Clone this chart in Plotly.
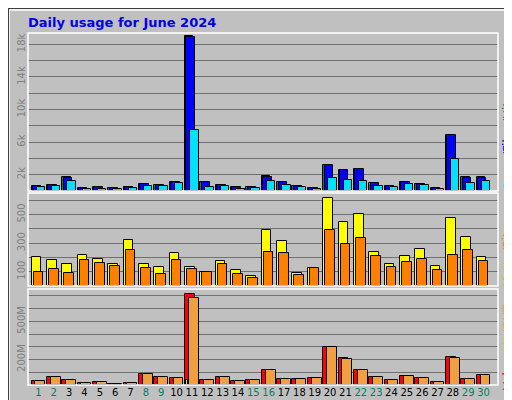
import plotly.graph_objects as go

days = list(range(1, 31))
weekend = [1, 2, 8, 9, 15, 16, 22, 23, 29, 30]
hits = [670, 750, 1670, 370, 500, 370, 500, 870, 750, 1120, 19000, 1120, 750, 500, 500, 1800, 1120, 620, 370, 3250, 2600, 2750, 1000, 620, 1120, 870, 370, 6900, 1670, 1670]
files = [640, 730, 1640, 350, 480, 350, 480, 850, 730, 1100, 18950, 1100, 730, 480, 480, 1780, 1100, 600, 350, 3230, 2580, 2730, 980, 600, 1100, 850, 350, 6880, 1650, 1650]
pages = [500, 620, 1250, 250, 250, 250, 370, 620, 620, 1000, 7500, 500, 620, 250, 370, 1250, 750, 500, 250, 1600, 1370, 1250, 620, 500, 870, 750, 250, 3900, 1000, 1250]
visits = [205, 184, 156, 219, 191, 156, 323, 156, 135, 233, 135, 100, 177, 114, 72, 393, 316, 93, 125, 616, 449, 505, 240, 156, 212, 260, 142, 477, 344, 205]
sites = [100, 121, 93, 184, 163, 142, 253, 128, 86, 184, 121, 100, 156, 86, 58, 240, 233, 79, 128, 393, 295, 337, 212, 135, 170, 191, 114, 219, 253, 177]
volume = [32, 64, 40, 19, 24, 10, 19, 90, 64, 56, 716, 40, 64, 32, 40, 119, 48, 48, 56, 302, 215, 119, 64, 40, 72, 56, 24, 223, 48, 82]
vol_in = [3, 3, 3, 1, 2, 1, 1, 3, 3, 3, 40, 3, 3, 2, 2, 3, 3, 3, 3, 3, 3, 3, 3, 3, 3, 3, 2, 3, 3, 3]
vol_out = [32, 64, 40, 19, 24, 9, 19, 90, 64, 56, 684, 40, 64, 32, 40, 119, 48, 48, 56, 302, 207, 119, 64, 40, 72, 56, 24, 215, 48, 82]

fig = go.Figure()
def bar(y, color, off, w, ax):
    fig.add_trace(go.Bar(x=days, y=y, marker=dict(color=color, line=dict(color="black", width=1)),
                         offset=off, width=w, xaxis="x" + ax, yaxis="y" + ax, showlegend=False))
bar(hits, "#008040", -0.45, 0.55, "")
bar(files, "#0000FF", -0.36, 0.55, "")
bar(pages, "#00E0FF", -0.12, 0.55, "")
bar(visits, "#FFFF00", -0.45, 0.63, "2")
bar(sites, "#FF8000", -0.32, 0.63, "2")
bar(volume, "#FF0000", -0.45, 0.63, "3")
bar(vol_out, "#F0A040", -0.2, 0.65, "3")
bar(vol_in, "#C0FF00", -0.4, 0.12, "3")

xr = [0.32, 30.94]
tt = [f"<span style='color:{'#008060' if d in weekend else 'black'}'>{d}</span>" for d in days]
grid = dict(showgrid=True, gridcolor="#707070", gridwidth=1, tickangle=-90,
            tickfont=dict(family="DejaVu Sans", size=10, color="#808080"), zeroline=False, ticks="")
fig.update_layout(
    width=512, height=400, margin=dict(l=0, r=0, t=0, b=0),
    paper_bgcolor="#C0C0C0", plot_bgcolor="#C0C0C0", barmode="overlay", bargap=0,
    xaxis=dict(domain=[20/512, 490/512], range=xr, showticklabels=False, anchor="y"),
    xaxis2=dict(domain=[20/512, 490/512], range=xr, showticklabels=False, anchor="y2"),
    xaxis3=dict(domain=[20/512, 490/512], range=xr, anchor="y3", tickvals=days, ticktext=tt,
                tickangle=0, tickfont=dict(family="DejaVu Sans", size=10), ticks=""),
    yaxis=dict(domain=[0.5425, 0.9375], range=[0, 19400],
               tickvals=[2000, 4000, 6000, 8000, 10000, 12000, 14000, 16000, 18000],
               ticktext=["2k", "", "6k", "", "10k", "", "14k", "", "18k"], **grid),
    yaxis2=dict(domain=[0.305, 0.5375], range=[0, 650],
                tickvals=[100, 200, 300, 400, 500, 600], ticktext=["100", "", "300", "", "500", ""], **grid),
    yaxis3=dict(domain=[0.0575, 0.2975], range=[0, 755],
                tickvals=[100, 200, 300, 400, 500, 600, 700], ticktext=["", "200M", "", "", "500M", "", ""], **grid),
    font=dict(family="DejaVu Sans"),
)
for y0, y1 in [(0.5425, 0.9375), (0.305, 0.5375), (0.0575, 0.2975)]:
    fig.add_shape(type="rect", xref="paper", yref="paper", x0=20/512, x1=490/512, y0=y0, y1=y1,
                  line=dict(color="white", width=1.5))
fig.add_shape(type="rect", xref="paper", yref="paper", x0=0.002, x1=0.99, y0=0.01, y1=0.995,
              line=dict(color="white", width=1.5))
fig.add_shape(type="rect", xref="paper", yref="paper", x0=0, x1=1, y0=0, y1=1,
              line=dict(color="#404040", width=2))
fig.add_annotation(text="<b>Daily usage for June 2024</b>", x=18/512, y=1-5/400, xref="paper", yref="paper",
                   xanchor="left", yanchor="top", showarrow=False, font=dict(size=13, color="#0000E0"))
def side(text, color, ypix):
    fig.add_annotation(text=text, x=500/512, y=1-ypix/400, xref="paper", yref="paper", textangle=-90,
                       showarrow=False, font=dict(size=12, color=color), xanchor="center", yanchor="middle")
side("Pages", "#00E0FF", 164)
side("/Files", "#0000FF", 133)
side("/Hits_", "#008040", 98)
side("Visits", "#E0C000", 262)
side("/Sites", "#FF8000", 228)
side("Volume", "#FF0000", 360)
side("/IN", "#C0E000", 337)
side("/OUT", "#F0A040", 311)
fig.write_html("out.html")
